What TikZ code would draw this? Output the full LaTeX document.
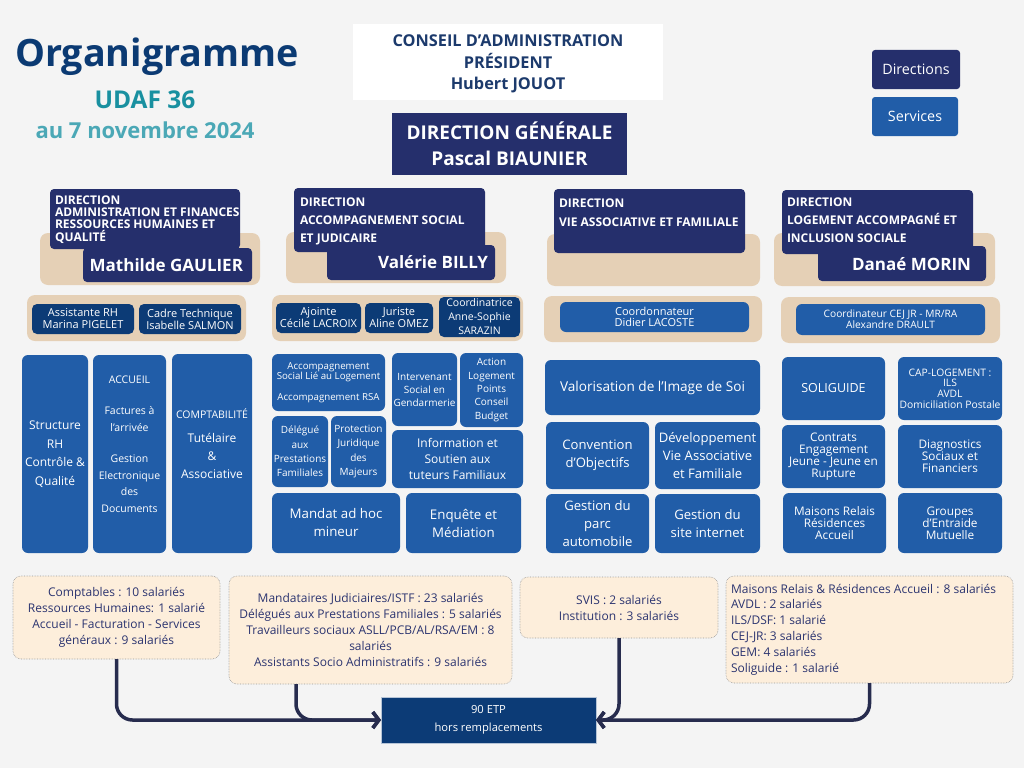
\documentclass[tikz,border=0pt]{standalone}
\usepackage{fontspec}
\setmainfont{Open Sans}
\usetikzlibrary{arrows.meta}
\definecolor{bg}{HTML}{F4F4F4}
\definecolor{navy}{HTML}{252F6C}
\definecolor{svcblue}{HTML}{215DA8}
\definecolor{staffblue}{HTML}{0C3B76}
\definecolor{tan}{HTML}{E5D0B6}
\definecolor{cream}{HTML}{FDEEDB}
\definecolor{titleblue}{HTML}{0B3A73}
\definecolor{teal}{HTML}{1990A0}
\definecolor{lteal}{HTML}{4BA8B6}
\definecolor{txtnavy}{HTML}{2B3470}
\definecolor{arrowc}{HTML}{272C4E}
\definecolor{conseilc}{HTML}{1C3A6C}
\newcommand\fs[2]{\fontsize{#1}{#2}\selectfont}
\newcommand\rbox[7]{\node[#1,minimum width={#4-#2},minimum height={#5-#3}] (#6) at ({(#2+#4)/2},{(#3+#5)/2}) {#7};}
\begin{document}
\begin{tikzpicture}[x=1pt,y=-1pt,
  every node/.style={inner sep=0pt,outer sep=0pt},
  tanbox/.style={fill=tan,rounded corners=8pt},
  dirbox/.style={fill=navy,rounded corners=4pt},
  dirtxt/.style={text=white,align=left,font=\bfseries\fs{12}{12.3}},
  nametxt/.style={text=white,font=\bfseries\fs{17}{20}},
  svcbox/.style={fill=svcblue,rounded corners=6pt,text=white,align=center},
  staffbox/.style={fill=staffblue,rounded corners=5pt,text=white,align=center},
  cntbox/.style={fill=cream,draw=gray!80,densely dotted,line width=0.6pt,rounded corners=8pt,text=txtnavy,align=center,font=\fs{12}{16}},
  arr/.style={draw=arrowc,line width=3.5pt,rounded corners=16pt,line join=round,-{Straight Barb[length=6pt,width=16pt,line width=3.5pt]}}
]
\useasboundingbox (0,0) rectangle (1024,768);
\fill[bg] (0,0) rectangle (1024,768);

% titles
\node[font=\bfseries\fs{37.7}{40},text=titleblue] (title) at (157,57) {Organigramme};
\node[font=\bfseries\fs{24.5}{26},text=teal] (udaf) at (145,100) {UDAF 36};
\node[font=\bfseries\fs{22}{24},text=lteal] (date) at (145,130) {au 7 novembre 2024};

% header
\rbox{fill=white}{353}{24}{663}{100}{conseil}{}
\node[text=conseilc,align=center,font=\bfseries\fs{16.3}{21.5}] (conseilt) at (508,64) {CONSEIL D’ADMINISTRATION\\PRÉSIDENT\\Hubert JOUOT};
\rbox{fill=navy,text=white,align=center,font=\bfseries\fs{19}{26}}{392}{113}{627}{175}{dg}{DIRECTION GÉNÉRALE\\Pascal BIAUNIER}
\rbox{fill=navy,rounded corners=3pt,text=white,font=\fs{14.3}{16}}{872}{50}{960}{89}{legdir}{Directions}
\rbox{fill=svcblue,rounded corners=3pt,text=white,font=\fs{14.3}{16}}{872}{97}{958}{136}{legsvc}{Services}

% column 1
\rbox{tanbox}{40}{233}{260}{285}{t1}{}
\rbox{dirbox}{50}{189}{240}{249}{d1}{}
\node[dirtxt,anchor=north west] (d1t) at (55,195.5) {DIRECTION\\ADMINISTRATION ET FINANCES\\RESSOURCES HUMAINES ET\\QUALITÉ};
\rbox{dirbox}{83}{248}{252}{282}{n1}{}
\node[nametxt,anchor=east] (n1t) at (243,265) {Mathilde GAULIER};
\rbox{tanbox}{27}{295}{246}{341}{st1}{}
\rbox{staffbox,font=\fs{11}{12}}{32}{304}{134}{334}{p11}{Assistante RH\\Marina PIGELET}
\rbox{staffbox,font=\fs{11}{12}}{139}{304}{241}{334}{p12}{Cadre Technique\\Isabelle SALMON}

% column 2
\rbox{tanbox}{286}{232}{506}{283}{t2}{}
\rbox{dirbox}{294}{188}{485}{252}{d2}{}
\node[dirtxt,anchor=north west,font=\bfseries\fs{12}{18}] (d2t) at (300,197.5) {DIRECTION\\ACCOMPAGNEMENT SOCIAL\\ET JUDICAIRE};
\rbox{dirbox}{327}{245}{495}{280}{n2}{}
\node[nametxt,anchor=east] (n2t) at (488,262) {Valérie BILLY};
\rbox{tanbox}{272}{295}{523}{341}{st2}{}
\rbox{staffbox,font=\fs{11}{12}}{276}{303}{361}{333}{p21}{Ajointe\\Cécile LACROIX}
\rbox{staffbox,font=\fs{11}{12}}{365}{303}{433}{333}{p22}{Juriste\\Aline OMEZ}
\rbox{staffbox,font=\fs{10.5}{14}}{439}{297}{520}{337}{p23}{Coordinatrice\\Anne-Sophie\\SARAZIN}

% column 3
\rbox{tanbox}{547}{234}{760}{286}{t3}{}
\rbox{dirbox}{554}{189}{745}{253}{d3}{}
\node[dirtxt,anchor=north west,font=\bfseries\fs{12}{19}] (d3t) at (559,198.5) {DIRECTION\\VIE ASSOCIATIVE ET FAMILIALE};
\rbox{tanbox}{544}{296}{762}{342}{st3}{}
\rbox{svcbox,font=\fs{11}{11}}{560}{302}{749}{332}{p31}{Coordonnateur\\Didier LACOSTE}

% column 4
\rbox{tanbox}{774}{233}{995}{286}{t4}{}
\rbox{dirbox}{782}{190}{973}{254}{d4}{}
\node[dirtxt,anchor=north west,font=\bfseries\fs{12}{18}] (d4t) at (787,197.5) {DIRECTION\\LOGEMENT ACCOMPAGNÉ ET\\INCLUSION SOCIALE};
\rbox{dirbox}{818}{246}{986}{281}{n4}{}
\node[nametxt,anchor=east] (n4t) at (971,264) {Danaé MORIN};
\rbox{tanbox}{781}{297}{1000}{343}{st4}{}
\rbox{svcbox,font=\fs{10.2}{11}}{796}{304}{985}{335}{p41}{Coordinateur CEJ JR - MR/RA\\Alexandre DRAULT}

% services column 1
\rbox{svcbox,font=\fs{12}{18.5}}{22}{355}{88}{553}{s11}{Structure\\RH\\Contrôle \&\\Qualité}
\rbox{svcbox}{93}{355}{166}{553}{s12}{}
\node[text=white,align=center,font=\fs{10.5}{16.5}] (s12t) at (129.5,444) {ACCUEIL\\[15pt]Factures à\\l’arrivée\\[15pt]Gestion\\Electronique\\des\\Documents};
\rbox{svcbox}{172}{354}{252}{553}{s13}{}
\node[text=white,align=center,font=\fs{12}{18}] (s13t) at (212,444) {{\fs{10.5}{12}COMPTABILITÉ}\\[6pt]Tutélaire\\\&\\Associative};

% services column 2
\rbox{svcbox,font=\fs{9.7}{10.5}}{272}{354}{385}{411}{s21}{Accompagnement\\Social Lié au Logement\\[10pt]Accompagnement RSA}
\rbox{svcbox,font=\fs{10}{13}}{392}{353}{457}{426}{s22}{Intervenant\\Social en\\Gendarmerie}
\rbox{svcbox,font=\fs{10}{13.3}}{460}{353}{523}{427}{s23}{Action\\Logement\\Points\\Conseil\\Budget}
\rbox{svcbox,font=\fs{10}{14.3}}{272}{416}{328}{487}{s24}{Délégué\\aux\\Prestations\\Familiales}
\rbox{svcbox,font=\fs{10}{14.3}}{331}{416}{386}{487}{s25}{Protection\\Juridique\\des\\Majeurs}
\rbox{svcbox,font=\fs{12}{16}}{392}{430}{523}{488}{s26}{Information et\\Soutien aux\\tuteurs Familiaux}
\rbox{svcbox,font=\fs{13.3}{18}}{272}{493}{400}{553}{s27}{Mandat ad hoc\\mineur}
\rbox{svcbox,font=\fs{13.3}{18}}{406}{493}{521}{553}{s28}{Enquête et\\Médiation}

% services column 3
\rbox{svcbox,font=\fs{13.6}{16}}{545}{360}{760}{415}{s31}{Valorisation de l’Image de Soi}
\rbox{svcbox,font=\fs{13.1}{18}}{546}{422}{649}{489}{s32}{Convention\\d’Objectifs}
\rbox{svcbox,font=\fs{13.1}{18}}{655}{422}{760}{489}{s33}{Développement\\Vie Associative\\et Familiale}
\rbox{svcbox,font=\fs{13.1}{18}}{546}{494}{649}{553}{s34}{Gestion du\\parc\\automobile}
\rbox{svcbox,font=\fs{13.1}{18}}{655}{494}{760}{553}{s35}{Gestion du\\site internet}

% services column 4
\rbox{svcbox,font=\fs{12.5}{14}}{782}{357}{885}{420}{s41}{SOLIGUIDE}
\rbox{svcbox,font=\fs{10.3}{10.7}}{898}{357}{1002}{420}{s42}{CAP-LOGEMENT :\\ILS\\AVDL\\Domiciliation Postale}
\rbox{svcbox,font=\fs{11.8}{12}}{782}{425}{885}{488}{s43}{Contrats\\Engagement\\Jeune - Jeune en\\Rupture}
\rbox{svcbox,font=\fs{11.8}{12}}{898}{425}{1002}{488}{s44}{Diagnostics\\Sociaux et\\Financiers}
\rbox{svcbox,font=\fs{11.8}{12}}{783}{493}{886}{553}{s45}{Maisons Relais\\Résidences\\Accueil}
\rbox{svcbox,font=\fs{11.8}{12}}{898}{493}{1002}{553}{s46}{Groupes\\d’Entraide\\Mutuelle}

% counts
\rbox{cntbox}{13}{576}{220}{659}{b1}{Comptables : 10 salariés\\Ressources Humaines: 1 salarié\\Accueil - Facturation - Services\\généraux : 9 salariés}
\rbox{cntbox}{229}{576}{512}{684}{b2}{Mandataires Judiciaires/ISTF : 23 salariés\\Délégués aux Prestations Familiales : 5 salariés\\Travailleurs sociaux ASLL/PCB/AL/RSA/EM : 8\\salariés\\Assistants Socio Administratifs : 9 salariés}
\rbox{cntbox}{520}{577}{718}{638}{b3}{SVIS : 2 salariés\\Institution : 3 salariés}
\rbox{cntbox}{726}{576}{1013}{683}{b4}{}
\node[text=txtnavy,align=left,font=\fs{12}{15.8},anchor=west] (b4t) at (731,629.5) {Maisons Relais \& Résidences Accueil : 8 salariés\\AVDL : 2 salariés\\ILS/DSF: 1 salarié\\CEJ-JR: 3 salariés\\GEM: 4 salariés\\Soliguide : 1 salarié};

% total
\rbox{fill=staffblue,draw=white!70!staffblue,line width=0.5pt,text=white,align=center,font=\fs{11.2}{18}}{381}{697}{596}{743}{etp}{90 ETP\\hors remplacements}

% connectors
\draw[arr] (b1.south) |- (etp.west);
\draw[arr] ([xshift=-74.5pt]b2.south) |- (etp.west);
\draw[arr] (b3.south) |- (etp.east);
\draw[arr] (b4.south) |- (etp.east);
\end{tikzpicture}
\end{document}
